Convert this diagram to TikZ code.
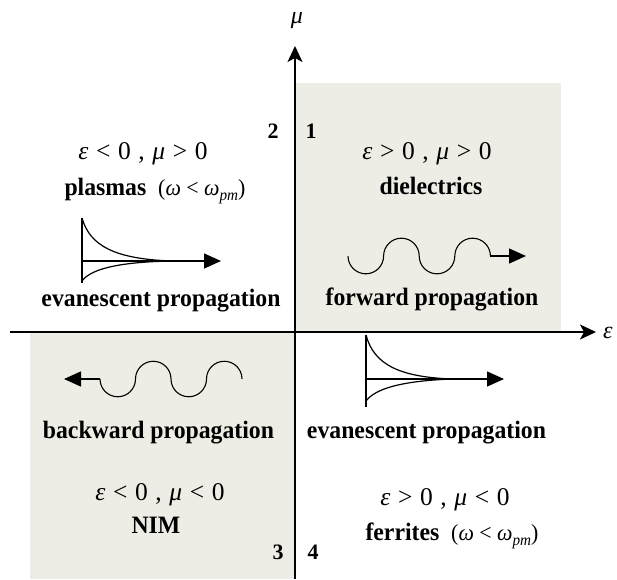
\documentclass[tikz,border=0pt]{standalone}
\usepackage{fontspec}
\setmainfont{Liberation Serif}
\usetikzlibrary{arrows.meta}
\definecolor{quadfill}{RGB}{238,237,229}
\newcommand{\sx}[1]{\scalebox{0.95}[1]{#1}}
\newcommand{\vi}[1]{{\itshape #1}}
\newcommand{\ms}{\hspace{0.3em}}
\newcommand{\wpm}{{\mdseries\fontsize{23}{27}\selectfont(\vi{ω} < \vi{ω}\raisebox{-0.22em}{\fontsize{16}{16}\selectfont\itshape pm})}}
\begin{document}
\begin{tikzpicture}[x=1pt,y=-1pt,
  lbl/.style={font=\fontsize{25}{29}\selectfont\bfseries, anchor=base, inner sep=0pt},
  mth/.style={font=\fontsize{25.5}{29}\selectfont, anchor=base, inner sep=0pt},
  num/.style={font=\fontsize{22}{26}\selectfont\bfseries, anchor=base, inner sep=0pt},
  axislbl/.style={font=\fontsize{24}{28}\selectfont\itshape, inner sep=0pt},
  axisline/.style={line width=1.6pt, -{Stealth[length=16pt,width=15pt,inset=4pt]}},
  wave/.style={line width=1.1pt},
  sarrow/.style={line width=1.3pt, -{Triangle[length=17pt,width=15pt]}},
  evline/.style={line width=1.2pt}]
\useasboundingbox (0,0) rectangle (617,579);
% shaded quadrants
\fill[quadfill] (296,83) rectangle (561,332);
\fill[quadfill] (30,332) rectangle (295,579);
% axes
\coordinate (xo) at (10,332);
\coordinate (xe) at (596,332);
\coordinate (yo) at (295,579);
\coordinate (ye) at (295,46);
\draw[axisline] (xo) -- (xe);
\draw[axisline] (yo) -- (ye);
\node[axislbl, anchor=base] (mulbl) at (297,23) {μ};
\node[axislbl, anchor=west] (eplbl) at (603,333) {ε};
% quadrant numbers
\node[num] (n1) at (311,138) {1};
\node[num] (n2) at (273,138) {2};
\node[num] (n3) at (278,559) {3};
\node[num] (n4) at (313,559) {4};
% quadrant 1
\node[mth] (q1m) at (427,159) {\vi{ε}\ms>\ms0\ms,\ms\vi{μ}\ms>\ms0};
\node[lbl] (q1t) at (431,194) {\sx{dielectrics}};
\node[lbl] (q1p) at (432,305) {\sx{forward propagation}};
\coordinate (fw0) at (348,256);
\coordinate (fwtip) at (526,256);
\draw[wave] (fw0) arc[start angle=180,end angle=0,radius=17.8]
  arc[start angle=180,end angle=360,radius=17.8]
  arc[start angle=180,end angle=0,radius=17.8]
  arc[start angle=180,end angle=360,radius=17.8] coordinate (fw1);
\draw[sarrow] (fw1) -- (fwtip);
% quadrant 2
\node[mth] (q2m) at (143,159) {\vi{ε}\ms<\ms0\ms,\ms\vi{μ}\ms>\ms0};
\node[lbl] (q2t) at (155,195) {\sx{plasmas\ \ \wpm}};
\node[lbl] (q2p) at (161,306) {\sx{evanescent propagation}};
\coordinate (e2top) at (82,218);
\coordinate (e2bot) at (82,283);
\coordinate (e2mid) at (82,261);
\coordinate (e2low) at (82,281);
\coordinate (e2tip) at (221,261);
\coordinate (e2meet) at (172,261);
\draw[evline] (e2top) -- (e2bot);
\draw[sarrow] (e2mid) -- (e2tip);
\draw[evline] (e2top) .. controls (90,246) and (115,259) .. (e2meet);
\draw[evline] (e2low) .. controls (90,270) and (115,262) .. (e2meet);
% quadrant 3
\node[lbl] (q3p) at (158.5,438) {\sx{backward propagation}};
\node[mth] (q3m) at (160,500) {\vi{ε}\ms<\ms0\ms,\ms\vi{μ}\ms<\ms0};
\node[lbl] (q3t) at (156,533) {\sx{NIM}};
\coordinate (bw0) at (100,379);
\coordinate (bwtip) at (64,379);
\draw[wave] (bw0) arc[start angle=180,end angle=0,radius=17.75]
  arc[start angle=180,end angle=360,radius=17.75]
  arc[start angle=180,end angle=0,radius=17.75]
  arc[start angle=180,end angle=360,radius=17.75];
\draw[sarrow] (bw0) -- (bwtip);
% quadrant 4
\node[lbl] (q4p) at (426.5,438) {\sx{evanescent propagation}};
\node[mth] (q4m) at (445,505) {\vi{ε}\ms>\ms0\ms,\ms\vi{μ}\ms<\ms0};
\node[lbl] (q4t) at (452,540) {\sx{ferrites\ \ \wpm}};
\coordinate (e4top) at (366,335);
\coordinate (e4bot) at (366,407);
\coordinate (e4mid) at (366,379);
\coordinate (e4low) at (366,401);
\coordinate (e4tip) at (504,379);
\coordinate (e4meet) at (452,379);
\draw[evline] (e4top) -- (e4bot);
\draw[sarrow] (e4mid) -- (e4tip);
\draw[evline] (e4top) .. controls (374,365) and (400,377) .. (e4meet);
\draw[evline] (e4low) .. controls (375,389) and (400,381) .. (e4meet);
\end{tikzpicture}
\end{document}
